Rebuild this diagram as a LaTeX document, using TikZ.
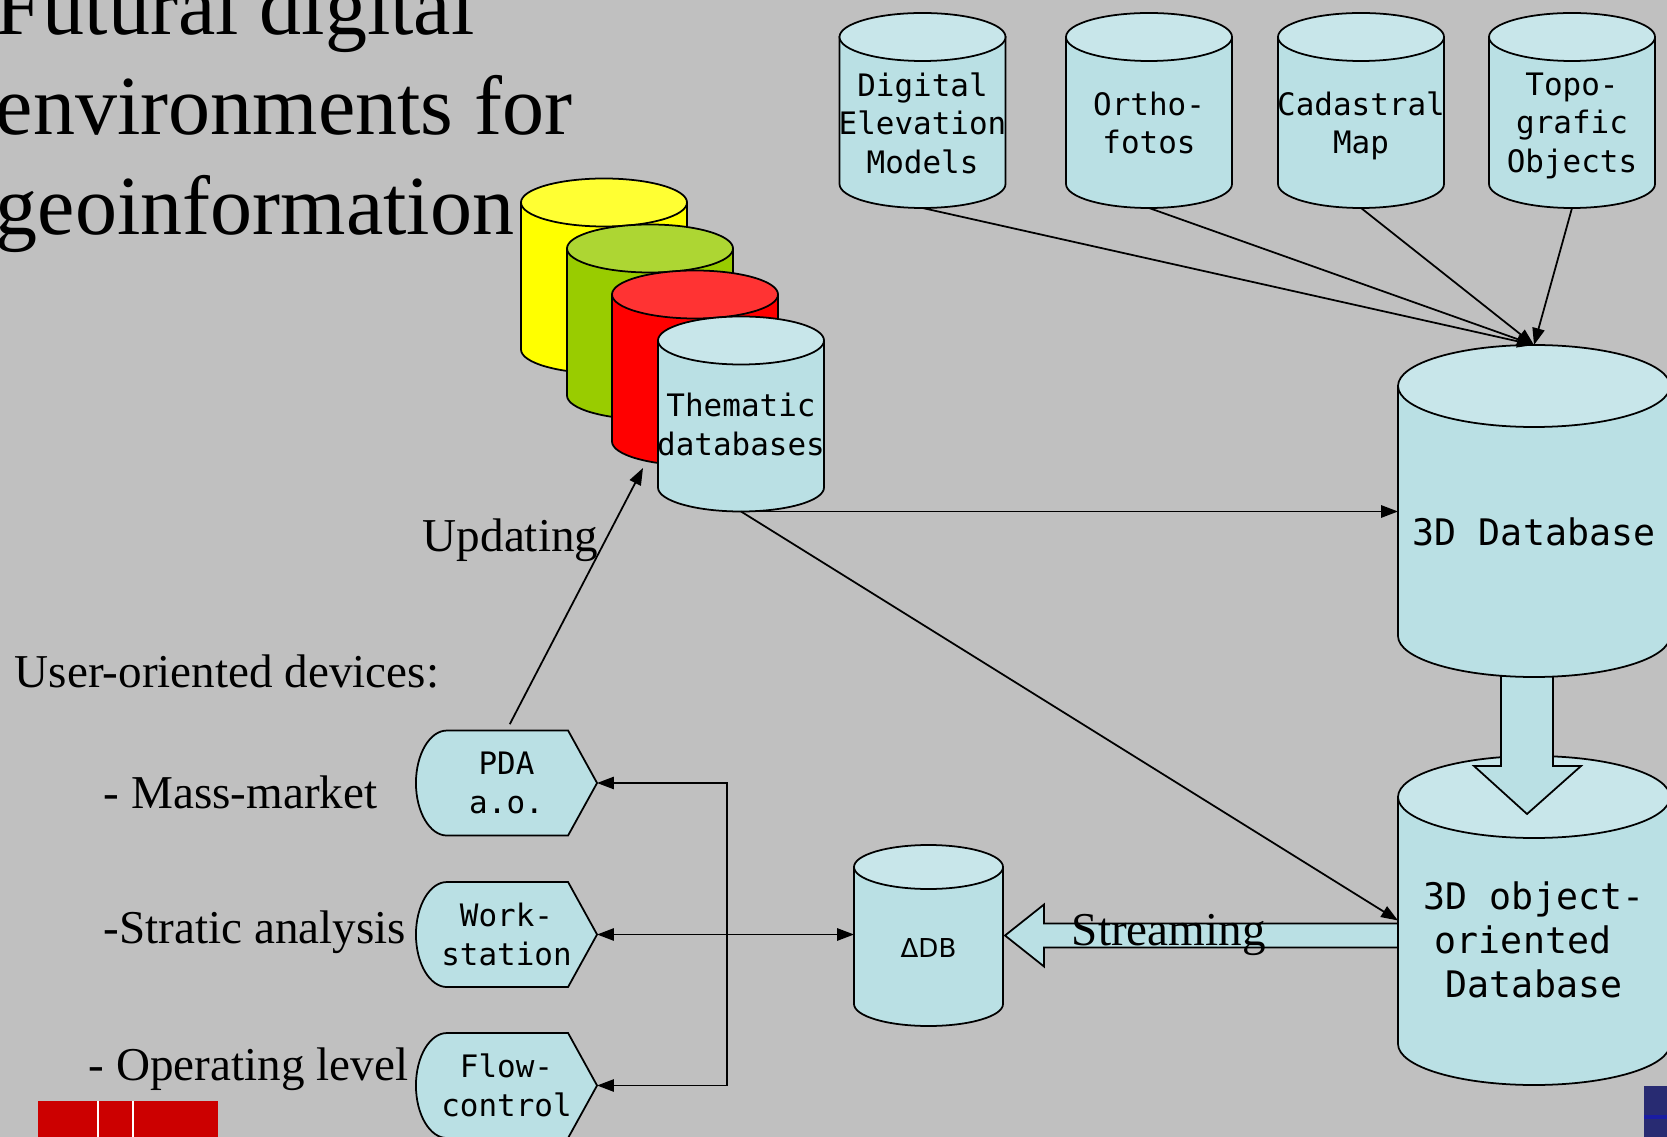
\documentclass[tikz,border=0pt]{standalone}
\usepackage{fontspec}
\setmainfont{Liberation Serif}
\newfontfamily\monofam{DejaVu Sans Mono}
\newfontfamily\sansfam{DejaVu Sans}
\usetikzlibrary{calc,arrows.meta}

\definecolor{slide}{HTML}{C0C0C0}
\definecolor{dbside}{HTML}{BAE0E4}
\definecolor{dbtop}{HTML}{C8E6EA}
\definecolor{yelside}{HTML}{FFFF00}
\definecolor{yeltop}{HTML}{FFFF33}
\definecolor{grnside}{HTML}{99CC00}
\definecolor{grntop}{HTML}{ADD633}
\definecolor{redside}{HTML}{FF0000}
\definecolor{redtop}{HTML}{FF3333}
\definecolor{logored}{HTML}{CC0000}
\definecolor{logoblue}{HTML}{282B72}

% database drum: name, centre, width, height, y radius (px), colour prefix
\newcommand{\database}[6]{%
  \node[cylbox={#3}{#4}] (#1) at (#2) {};
  \draw[fill=#6side] ($(#1.north west)+(0,#5)$) -- ($(#1.south west)+(0,-#5)$)
    arc[start angle=180,end angle=0,x radius={#3/2},y radius=#5]
    -- ($(#1.north east)+(0,#5)$) -- cycle;
  \draw[fill=#6top] ($(#1.north)+(0,#5)$) ellipse[x radius={#3/2},y radius=#5];
}
% device box: name, centre, text
\newcommand{\device}[3]{%
  \node[devbox] (#1) at (#2) {};
  \draw[fill=dbside] ($(#1.north west)+(31,0)$) -- ($(#1.north east)+(-29,0)$) -- (#1.east)
    -- ($(#1.south east)+(-29,0)$) -- ($(#1.south west)+(31,0)$)
    arc[start angle=90,end angle=270,x radius=31,y radius=52.5] -- cycle;
  \node[devtext] (#1-t) at (#1) {#3};
}

\begin{document}
\begin{tikzpicture}
[x=0.01cm,y=-0.01cm,line width=0.5pt,>={Triangle[length=4.8pt,width=3.5pt]},
 cylbox/.style 2 args={minimum width=#1*0.01cm,minimum height=#2*0.01cm,inner sep=0pt,outer sep=0pt},
 devbox/.style={minimum width=1.81cm,minimum height=1.05cm,inner sep=0pt,outer sep=0pt},
 devtext/.style={font=\monofam\fontsize{8.8pt}{10.95pt}\selectfont,align=center,inner sep=0pt},
 dbtext/.style={font=\monofam\fontsize{8.8pt}{10.95pt}\selectfont,align=center,inner sep=0pt,
   execute at begin node=\strut,execute at end node=\strut},
 bigtext/.style={font=\monofam\fontsize{10.4pt}{12.5pt}\selectfont,align=center,inner sep=0pt,
   execute at begin node=\strut,execute at end node=\strut},
 deltatext/.style={font=\sansfam\fontsize{7.4pt}{8.9pt}\selectfont,inner sep=0pt,
   execute at begin node=\strut},
 caption/.style={font=\fontsize{13.4pt}{16pt}\selectfont,inner sep=0pt,anchor=base west},
 title/.style={font=\fontsize{23.9pt}{28.45pt}\selectfont,align=left,inner sep=0pt,
   anchor=north west,execute at begin node=\strut},
 fatarrow/.style={draw,fill=dbside,line join=miter},]
\useasboundingbox (0,0) rectangle (1667,1137);
\clip (0,0) rectangle (1667,1137);
\fill[slide] (0,0) rectangle (1667,1137);

% title
\node[title] (title) at (-5,-25) {Futural digital\\environments for\\geoinformation};

% thematic stack
\database{yel}{604,276}{166}{195}{24}{yel}
\database{grn}{650,322}{166}{195}{24}{grn}
\database{red}{695,368}{166}{195}{24}{red}
\database{them}{741,414}{166}{195}{24}{db}
\node[dbtext] (them-t) at ($(them)+(0,16)$) {Thematic\\databases};

% source databases
\database{dem}{922.5,110.5}{166}{195}{24}{db}
\database{ortho}{1149,110.5}{166}{195}{24}{db}
\database{cad}{1361,110.5}{166}{195}{24}{db}
\database{topo}{1572,110.5}{166}{195}{24}{db}
\node[dbtext] (dem-t) at ($(dem)+(0,18)$) {Digital\\Elevation\\Models};
\node[dbtext] (ortho-t) at ($(ortho)+(0,18)$) {Ortho-\\fotos};
\node[dbtext] (cad-t) at ($(cad)+(0,18)$) {Cadastral\\Map};
\node[dbtext] (topo-t) at ($(topo)+(0,18)$) {Topo-\\grafic\\Objects};

% delta db and streaming
\database{ddb}{928.5,935.5}{149}{181}{22}{db}
\node[deltatext] (ddb-t) at ($(ddb)+(0,16)$) {ΔDB};
\draw[fatarrow] ($(ddb.east)+(2,0)$) -- ++(39,-31) -- ++(0,19) -- ++(354,0)
  -- ++(0,24) -- ++(-354,0) -- ++(0,19) -- cycle;

% 3D databases
\database{oo}{1534,920.5}{272}{329}{41}{db}
\draw[fatarrow] ($(oo.north)+(-33,-87)$) -- ++(0,97) -- ++(-27,0) -- ++(53,48)
  -- ++(54,-48) -- ++(-28,0) -- ++(0,-97) -- cycle;
\database{db3d}{1534,511}{272}{332}{41}{db}
\node[bigtext] (db3d-t) at ($(db3d)+(0,26)$) {3D Database};
\node[bigtext] (oo-t) at ($(oo)+(0,26)$) {3D object-\\oriented\hphantom{x}\\Database};
\node[caption] (stream) at (1071,945) {Streaming};

\draw[->] (dem.south) -- (db3d.north);
\draw[->] (ortho.south) -- (db3d.north);
\draw[->] (cad.south) -- (db3d.north);
\draw[->] (topo.south) -- (db3d.north);
\draw[->] (them.south) -- (them.south -| db3d.west);
\draw[->] (them.south) -- (oo.west);

% devices
\node[caption] (users) at (14,687) {User-oriented devices:};
\node[caption] (mass) at (103,808) {- Mass-market};
\node[caption] (strat) at (103,943) {-Stratic analysis};
\node[caption] (oper) at (88,1080) {- Operating level};
\device{pda}{506.5,783}{PDA\\a.o.}
\device{ws}{506.5,934.5}{Work-\\station}
\device{fc}{506.5,1085.5}{Flow-\\control}

\coordinate (upd) at (643,468);
\draw[->,shorten <=2pt] (pda.north) -- (upd);
\node[caption] (upd-t) at (422,552) {Updating};

\coordinate (hub) at ($(ws.east)+(130,0)$);
\draw[->] (hub) -- (hub -| ddb.west);
\draw[->] (hub) -- (ws.east);
\draw[->] (hub) |- (pda.east);
\draw[->] (hub) |- (fc.east);

% logos
\fill[logored] (38,1101) rectangle (218,1140);
\draw[white,line width=0.6pt] (98,1101) -- (98,1140);
\draw[white,line width=0.6pt] (133,1101) -- (133,1140);
\fill[logoblue] (1644,1086) rectangle (1670,1140);
\draw[blue!35!logoblue,line width=1pt] (1644,1117) -- (1670,1117);
\end{tikzpicture}
\end{document}
